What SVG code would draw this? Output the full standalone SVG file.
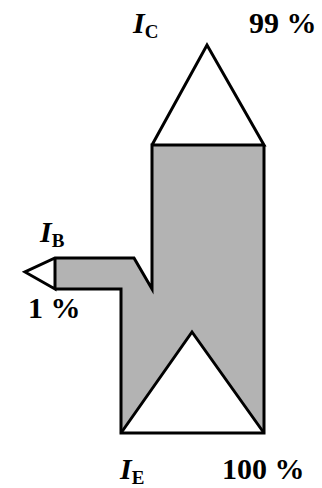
<svg xmlns="http://www.w3.org/2000/svg" width="322" height="488" viewBox="0 0 322 488">
<style>
.t{font-family:"Liberation Serif","Times New Roman",serif;font-weight:bold;font-size:30px;fill:#000}
.i{font-style:italic}
.s{font-size:19px}
.ln{fill:none;stroke:#000;stroke-width:3;stroke-linejoin:miter}
</style>
<g id="flow">
<polygon points="152,145 264,145 264,433 121,433 121,289 55,289 55,258 134,258 152,289" fill="#b3b3b3" stroke="none"/>
<polygon points="121,433 192,332 264,433" fill="#fff" stroke="none"/>
<polyline class="ln" points="152,145 207,45 264,145 152,145 152,289 134,258 55,258 25,272 55,289 55,258"/>
<polyline class="ln" points="55,289 121,289 121,433 264,433 264,145"/>
<polyline class="ln" points="121,433 192,332 264,433"/>
</g>
<g id="labels">
<text class="t" x="133" y="33"><tspan class="i">I</tspan><tspan class="s" dy="5">C</tspan></text>
<text class="t" x="249" y="33">99 %</text>
<text class="t" x="40" y="242"><tspan class="i">I</tspan><tspan class="s" dy="5">B</tspan></text>
<text class="t" x="28" y="318">1 %</text>
<text class="t" x="120" y="479"><tspan class="i">I</tspan><tspan class="s" dy="5">E</tspan></text>
<text class="t" x="222" y="479">100 %</text>
</g>
</svg>
